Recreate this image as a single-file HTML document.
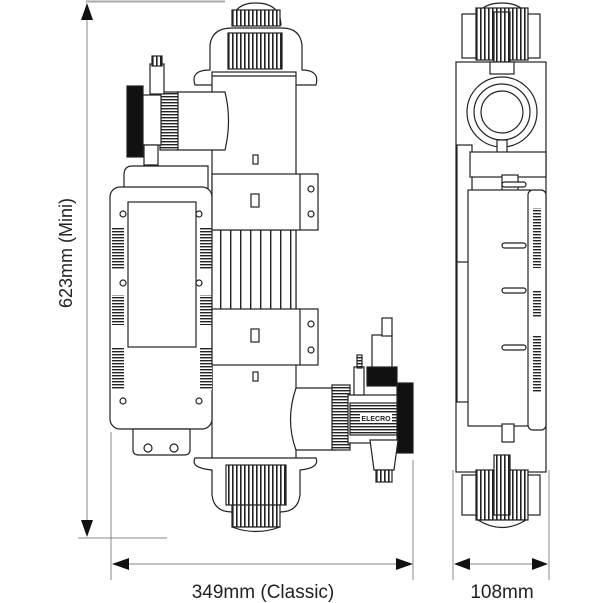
<!DOCTYPE html>
<html><head><style>
html,body{margin:0;padding:0;background:#fff;}
svg{display:block;}
text{font-family:"Liberation Sans",sans-serif;fill:#222;}
</style></head><body>
<svg width="603" height="603" viewBox="0 0 603 603" xmlns="http://www.w3.org/2000/svg">
<defs>
<pattern id="vfin" width="4" height="4" patternUnits="userSpaceOnUse"><rect width="4" height="4" fill="#fff"/><rect width="1.6" height="4" fill="#222"/></pattern>
<pattern id="hfin" width="4" height="3" patternUnits="userSpaceOnUse"><rect width="4" height="3" fill="#fff"/><rect width="4" height="1.4" fill="#222"/></pattern>
<pattern id="wfin" width="10" height="4" patternUnits="userSpaceOnUse"><rect width="10" height="4" fill="#fff"/><rect width="1.4" height="4" fill="#222"/></pattern>
</defs>
<g stroke="#888" stroke-width="1" fill="none">
<line x1="86" y1="1.5" x2="225" y2="1.5" stroke="#aaa" stroke-width="2"/>
<line x1="87" y1="10" x2="87" y2="530"/>
<line x1="78" y1="538" x2="167" y2="538"/>
<line x1="111" y1="432" x2="111" y2="580"/>
<line x1="413" y1="460" x2="413" y2="580"/>
<line x1="120" y1="564" x2="405" y2="564"/>
<line x1="453" y1="470" x2="453" y2="580"/>
<line x1="549" y1="470" x2="549" y2="580"/>
<line x1="462" y1="564" x2="541" y2="564"/>
</g>
<g fill="#111">
<polygon points="87,3 81,20 93,20"/>
<polygon points="87,537 81,520 93,520"/>
<polygon points="112,564 129,558 129,570"/>
<polygon points="413,564 396,558 396,570"/>
<polygon points="454,564 470,558 470,570"/>
<polygon points="548,564 532,558 532,570"/>
</g>
<text x="0" y="0" font-size="18" text-anchor="middle" transform="translate(72,253) rotate(-90)">623mm (Mini)</text>
<text x="263" y="598" font-size="19" text-anchor="middle">349mm (Classic)</text>
<text x="502" y="598" font-size="19" text-anchor="middle">108mm</text>

<g stroke="#222" stroke-width="1.2" fill="#fff">
<!-- front view top cap -->
<path d="M195,85 Q190,70 210,70 L210,45 Q212,28 232,28 L282,28 Q300,28 302,45 L302,70 Q320,70 316,85 Z"/>
<path d="M232,25 Q232,3 256,3 Q280,3 281,25 Z"/>
<rect x="232" y="10" width="48" height="16" fill="url(#vfin)"/>
<rect x="228" y="33" width="54" height="36" fill="url(#vfin)"/>
<!-- main cylinder -->
<rect x="212" y="72" width="84" height="400"/>
<line x1="212" y1="76" x2="296" y2="76"/>
<!-- left fitting -->
<path d="M176,92 L225,92 Q232,120 225,150 L176,150 Z"/>
<rect x="160" y="92" width="18" height="58" fill="url(#hfin)"/>
<rect x="127" y="86" width="16" height="71" fill="#111"/>
<rect x="143" y="95" width="18" height="50"/>
<rect x="150" y="64" width="14" height="30"/>
<rect x="152" y="56" width="10" height="10" fill="url(#vfin)"/>
<rect x="144" y="145" width="14" height="20"/>
<rect x="149" y="165" width="4" height="10" fill="#111"/>
<!-- control box -->
<path d="M124,190 L124,175 Q124,166 132,166 L208,166 L208,190 Z"/>
<rect x="110" y="187" width="102" height="242" rx="10"/>
<rect x="128" y="202" width="68" height="145"/>
<rect x="112" y="227" width="12" height="42" fill="url(#hfin)" stroke="none"/>
<rect x="112" y="295" width="12" height="30" fill="url(#hfin)" stroke="none"/>
<rect x="112" y="348" width="12" height="42" fill="url(#hfin)" stroke="none"/>
<rect x="200" y="227" width="12" height="42" fill="url(#hfin)" stroke="none"/>
<rect x="200" y="295" width="12" height="30" fill="url(#hfin)" stroke="none"/>
<rect x="200" y="348" width="12" height="42" fill="url(#hfin)" stroke="none"/>
<circle cx="123" cy="214" r="3"/><circle cx="199" cy="214" r="3"/>
<circle cx="123" cy="283" r="3"/><circle cx="199" cy="283" r="3"/>
<circle cx="123" cy="401" r="3"/><circle cx="199" cy="401" r="3"/>
<path d="M133,429 L190,429 L190,450 Q190,455 184,455 L139,455 Q133,455 133,450 Z"/>
<circle cx="148" cy="448" r="4"/><circle cx="174" cy="448" r="4"/>
<!-- fins between clamps -->
<rect x="212" y="230" width="84" height="80" fill="url(#wfin)"/>
<!-- clamps -->
<rect x="212" y="174" width="106" height="56"/>
<line x1="300" y1="174" x2="300" y2="230"/>
<rect x="251" y="194" width="8" height="13"/>
<circle cx="311" cy="189" r="3"/><circle cx="311" cy="214" r="3"/>
<rect x="212" y="309" width="106" height="56"/>
<line x1="300" y1="309" x2="300" y2="365"/>
<rect x="251" y="329" width="8" height="13"/>
<circle cx="311" cy="324" r="3"/><circle cx="311" cy="350" r="3"/>
<rect x="253" y="155" width="5" height="9"/>
<rect x="253" y="372" width="5" height="9"/>
<!-- right fitting -->
<path d="M296,388 L335,388 L335,450 L296,450 Q285,420 296,388 Z"/>
<rect x="332" y="385" width="18" height="65" fill="url(#hfin)"/>
<rect x="348" y="395" width="52" height="48"/>
<rect x="350" y="403" width="48" height="32" fill="url(#hfin)"/>
<rect x="360" y="413" width="32" height="9" stroke="none"/>
<text x="376" y="421" font-size="7" text-anchor="middle" stroke="none" style="font-weight:bold">ELECRO</text>
<rect x="397" y="383" width="16" height="70" fill="#111"/>
<rect x="367" y="367" width="30" height="19" fill="#111"/>
<rect x="372" y="335" width="20" height="32"/>
<rect x="382" y="318" width="10" height="18"/>
<rect x="354" y="367" width="10" height="28"/>
<rect x="357" y="355" width="5" height="13" fill="url(#hfin)"/>
<path d="M370,440 L398,440 L394,470 L374,470 Z"/>
<rect x="376" y="470" width="16" height="12" fill="url(#vfin)"/>
<!-- bottom cap -->
<path d="M195,458 Q190,468 212,470 L212,495 Q214,512 232,512 L280,512 Q298,512 300,495 L300,470 Q320,468 316,458 Z"/>
<rect x="226" y="465" width="60" height="40" fill="url(#vfin)"/>
<rect x="232" y="505" width="48" height="22" fill="url(#vfin)"/>
<path d="M232,527 Q256,536 280,527 Z"/>

<!-- side view -->
<path d="M476,25 Q476,3 502,3 Q528,3 528,25 Z"/>
<rect x="476" y="8" width="52" height="52" fill="url(#vfin)"/>
<rect x="462" y="14" width="14" height="44"/>
<rect x="528" y="14" width="12" height="44"/>
<rect x="494" y="12" width="16" height="50" fill="url(#vfin)"/>
<rect x="456" y="62" width="90" height="410"/>
<rect x="490" y="62" width="24" height="12"/>
<circle cx="502" cy="112" r="35"/>
<circle cx="502" cy="112" r="28"/>
<circle cx="502" cy="112" r="21"/>
<rect x="497" y="140" width="10" height="20"/>
<rect x="499" y="160" width="5" height="14" fill="#111"/>
<rect x="457" y="145" width="15" height="180"/>
<rect x="457" y="262" width="15" height="140"/>
<rect x="470" y="152" width="76" height="25"/>
<rect x="502" y="175" width="16" height="18"/>
<rect x="468" y="190" width="62" height="236"/>
<rect x="528" y="190" width="18" height="240" rx="5"/>
<rect x="533" y="208" width="8" height="60" fill="url(#hfin)" stroke="none"/>
<rect x="533" y="290" width="8" height="28" fill="url(#hfin)" stroke="none"/>
<rect x="533" y="335" width="8" height="58" fill="url(#hfin)" stroke="none"/>
<rect x="502" y="182" width="24" height="5" rx="2.5"/>
<rect x="502" y="243" width="24" height="5" rx="2.5"/>
<rect x="502" y="288" width="24" height="5" rx="2.5"/>
<rect x="502" y="345" width="24" height="5" rx="2.5"/>
<rect x="502" y="424" width="12" height="18"/>
<rect x="476" y="470" width="52" height="50" fill="url(#vfin)"/>
<rect x="462" y="475" width="14" height="40"/>
<rect x="528" y="475" width="12" height="40"/>
<rect x="494" y="455" width="16" height="60" fill="url(#vfin)"/>
<path d="M478,520 Q502,535 526,520 Z"/>
</g>
</svg>
</body></html>
